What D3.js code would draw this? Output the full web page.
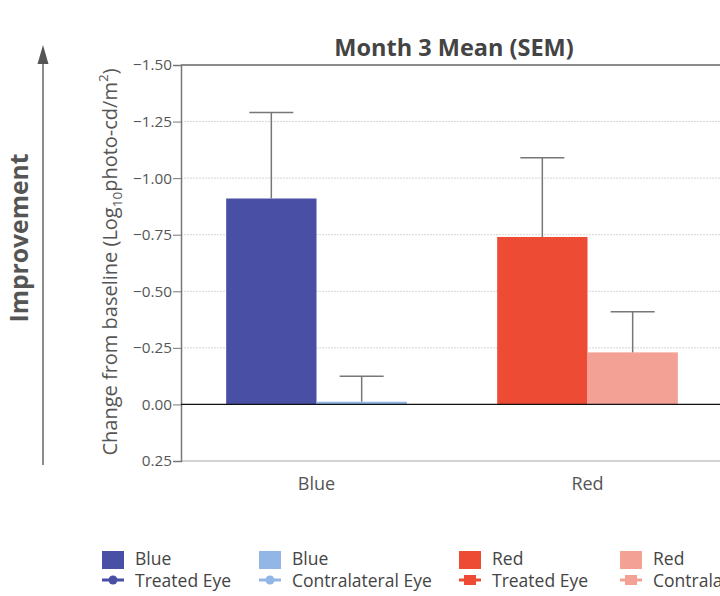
<!DOCTYPE html>
<html>
<head>
<meta charset="utf-8">
<script src="https://cdn.jsdelivr.net/npm/d3@7"></script>
<style>
  html, body { margin: 0; padding: 0; background: #fff; overflow: hidden; }
  svg { display: block; font-family: "Open Sans", "Noto Sans", sans-serif; }
</style>
</head>
<body>
<svg id="chart" width="720" height="596"></svg>
<script>
// Month 3 change from baseline, mean with SEM
const categories = ["Blue", "Red"];
const eyes = ["Treated Eye", "Contralateral Eye"];
const treatedMean = [-0.91, -0.74];
const treatedSEM = [0.38, 0.35];
const contraMean = [-0.012, -0.23];
const contraSEM = [0.113, 0.18];
const yTicks = [-1.5, -1.25, -1.0, -0.75, -0.5, -0.25, 0.0, 0.25];

const colors = {
  "Blue": { "Treated Eye": "#4a4fa6", "Contralateral Eye": "#92b7e6" },
  "Red":  { "Treated Eye": "#ee4b35", "Contralateral Eye": "#f4a195" }
};

const rows = [];
categories.forEach((c, i) => {
  rows.push({ cat: c, eye: eyes[0], mean: treatedMean[i], sem: treatedSEM[i] });
  rows.push({ cat: c, eye: eyes[1], mean: contraMean[i], sem: contraSEM[i] });
});

const svg = d3.select("#chart");
const plot = { left: 181, right: 723, top: 65, bottom: 461 };

const x = d3.scaleBand().domain(categories)
  .range([plot.left, plot.right]).paddingInner(1 / 3).paddingOuter(1 / 6);
const xSub = d3.scaleBand().domain(eyes).range([0, x.bandwidth()]);
const y = d3.scaleLinear().domain([0.25, -1.5]).range([plot.bottom, plot.top]);

// Title
svg.append("text")
  .attr("x", 454).attr("y", 56)
  .attr("text-anchor", "middle")
  .attr("font-size", 23.5).attr("font-weight", "bold").attr("fill", "#444")
  .text("Month 3 Mean (SEM)");

// Gridlines
svg.append("g").selectAll("line")
  .data(yTicks.filter(t => t !== -1.5 && t !== 0 && t !== 0.25))
  .join("line")
  .attr("x1", plot.left).attr("x2", 760)
  .attr("y1", d => y(d)).attr("y2", d => y(d))
  .attr("stroke", "#d6d6d6").attr("stroke-width", 1)
  .attr("stroke-dasharray", "2,1");

// Top frame line and bottom line
svg.append("line")
  .attr("x1", plot.left).attr("x2", 760)
  .attr("y1", y(-1.5)).attr("y2", y(-1.5))
  .attr("stroke", "#666").attr("stroke-width", 1.5);
svg.append("line")
  .attr("x1", plot.left).attr("x2", 760)
  .attr("y1", y(0.25)).attr("y2", y(0.25))
  .attr("stroke", "#c4c4c4").attr("stroke-width", 1.5);

// Y axis
const yAxis = svg.append("g")
  .attr("transform", `translate(${plot.left},0)`)
  .call(d3.axisLeft(y).tickValues(yTicks).tickFormat(d3.format(".2f")).tickSizeOuter(0).tickSize(8));
yAxis.select(".domain").attr("stroke", "#777").attr("stroke-width", 1.5);
yAxis.selectAll(".tick line").attr("stroke", "#777");
yAxis.selectAll(".tick text")
  .attr("font-size", 15.3).attr("fill", "#555")
  .attr("font-family", "'Open Sans', sans-serif")
  .attr("x", -9);

// Bars
svg.append("g").selectAll("rect")
  .data(rows).join("rect")
  .attr("x", d => x(d.cat) + xSub(d.eye))
  .attr("width", xSub.bandwidth())
  .attr("y", d => Math.min(y(d.mean), y(0)))
  .attr("height", d => Math.abs(y(d.mean) - y(0)))
  .attr("fill", d => colors[d.cat][d.eye]);

// Error bars (upward)
const err = svg.append("g").attr("stroke", "#777").attr("stroke-width", 1.5);
err.selectAll("line.v").data(rows).join("line").attr("class", "v")
  .attr("x1", d => x(d.cat) + xSub(d.eye) + xSub.bandwidth() / 2)
  .attr("x2", d => x(d.cat) + xSub(d.eye) + xSub.bandwidth() / 2)
  .attr("y1", d => y(d.mean)).attr("y2", d => y(d.mean - d.sem));
err.selectAll("line.cap").data(rows).join("line").attr("class", "cap")
  .attr("x1", d => x(d.cat) + xSub(d.eye) + xSub.bandwidth() / 2 - 22)
  .attr("x2", d => x(d.cat) + xSub(d.eye) + xSub.bandwidth() / 2 + 22)
  .attr("y1", d => y(d.mean - d.sem)).attr("y2", d => y(d.mean - d.sem));

// Zero line
svg.append("line")
  .attr("x1", plot.left).attr("x2", 760)
  .attr("y1", y(0)).attr("y2", y(0))
  .attr("stroke", "#111").attr("stroke-width", 1.3);

// Category labels
svg.append("g").selectAll("text")
  .data(categories).join("text")
  .attr("x", d => x(d) + x.bandwidth() / 2)
  .attr("y", 490)
  .attr("text-anchor", "middle")
  .attr("font-size", 18).attr("fill", "#555")
  .text(d => d);

// Y axis title
const yt = svg.append("text")
  .attr("transform", `translate(117,${262}) rotate(-90)`)
  .attr("text-anchor", "middle")
  .attr("font-size", 20).attr("fill", "#555");
yt.append("tspan").text("Change from baseline (Log");
yt.append("tspan").attr("font-size", 13.5).attr("dy", 5).text("10");
yt.append("tspan").attr("dy", -5).text("photo-cd/m");
yt.append("tspan").attr("font-size", 13.5).attr("dy", -9).text("2");
yt.append("tspan").attr("dy", 9).text(")");

// Improvement arrow
svg.append("path")
  .attr("d", "M43,465 L43,62")
  .attr("stroke", "#666").attr("stroke-width", 1.5);
svg.append("path")
  .attr("d", "M37.5,64 L43,45 L48.5,64 Z").attr("fill", "#555");

svg.append("text")
  .attr("transform", "translate(28,238) rotate(-90)")
  .attr("text-anchor", "middle")
  .attr("font-size", 24.7).attr("font-weight", "bold").attr("fill", "#555")
  .text("Improvement");

// Legend
const legendItems = [];
categories.forEach(c => eyes.forEach(e => legendItems.push({ cat: c, eye: e })));
const legendX = [102, 259, 459, 620];
const lg = svg.append("g").selectAll("g")
  .data(legendItems).join("g")
  .attr("transform", (d, i) => `translate(${legendX[i]},0)`);
lg.append("rect")
  .attr("x", 0).attr("y", 551).attr("width", 22).attr("height", 18)
  .attr("fill", d => colors[d.cat][d.eye]);
lg.append("line")
  .attr("x1", 0).attr("x2", 22).attr("y1", 580).attr("y2", 580)
  .attr("stroke", d => colors[d.cat][d.eye]).attr("stroke-width", 3);
lg.filter(d => d.cat === "Blue").append("circle")
  .attr("cx", 11).attr("cy", 580).attr("r", 4.5)
  .attr("fill", d => colors[d.cat][d.eye]);
lg.filter(d => d.cat === "Red").append("rect")
  .attr("x", 5).attr("y", 575).attr("width", 12).attr("height", 10)
  .attr("fill", d => colors[d.cat][d.eye]);
lg.append("text")
  .attr("x", 33).attr("y", 565)
  .attr("font-size", 17.5).attr("fill", "#444")
  .text(d => d.cat);
lg.append("text")
  .attr("x", 33).attr("y", 587)
  .attr("font-size", 17.5).attr("fill", "#444")
  .text(d => d.eye);
</script>
</body>
</html>
